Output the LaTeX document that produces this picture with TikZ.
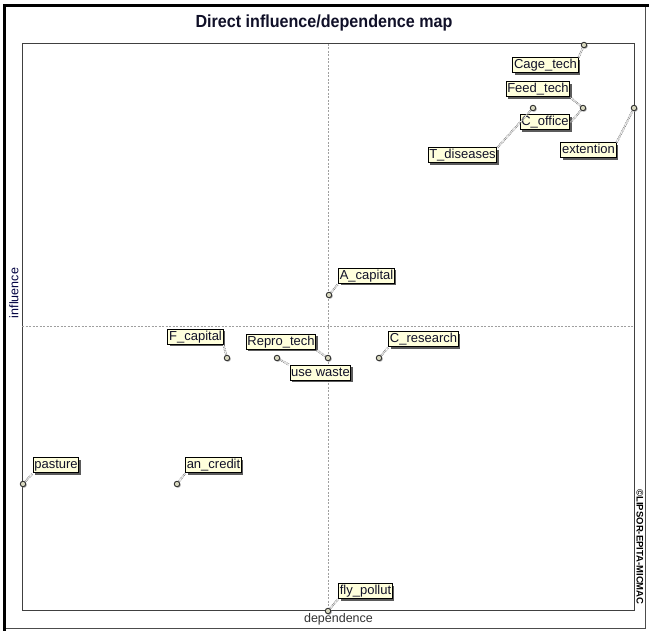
\documentclass[tikz,border=0pt]{standalone}
\usepackage{fontspec}
\setmainfont{Liberation Sans}
\usetikzlibrary{shadows}
\definecolor{lab}{HTML}{FFFFDC}
\definecolor{ink}{HTML}{101028}
\begin{document}
\begin{tikzpicture}[x=1pt,y=-1pt,
 lbl/.style={draw=black, fill=lab, line width=1pt, inner xsep=1.2pt, inner ysep=1pt, text=ink,
   font=\fontsize{13}{15}\selectfont, text height=10pt, text depth=3pt,
   drop shadow={shadow xshift=2pt, shadow yshift=-2pt, fill=gray!40!black, opacity=0.8}},
 pt/.style={circle, draw=gray!40!black, fill=lab!70!gray, line width=0.9pt, inner sep=0pt, minimum size=5.5pt,
   drop shadow={shadow xshift=1pt, shadow yshift=-1pt, fill=gray!70, opacity=1}},
 lead/.style={draw=gray!85!black, dash pattern=on 0.9pt off 0.9pt, line width=0.55pt, double=white, double distance=0.9pt},
 axisfont/.style={font=\fontsize{12.5}{14}\selectfont}]
\useasboundingbox (0,0) rectangle (649,631);
\fill[white] (0,0) rectangle (649,631);
% window border
\draw[line width=3pt] (4.5,631) -- (4.5,5.5) -- (649,5.5);
\draw[gray!60!black, line width=1pt] (6,628.5) -- (645.5,628.5) -- (645.5,7);
% plot frame and midlines
\draw[black!75, line width=1pt] (22,44) rectangle (634,610);
\draw[gray!75, dash pattern=on 2pt off 1.5pt, line width=0.6pt] (328.5,44) -- (328.5,610);
\draw[gray!75, dash pattern=on 2pt off 1.5pt, line width=0.6pt] (22,326) -- (634,326);
% texts
\node[font=\bfseries\fontsize{17.5}{19}\selectfont, text=ink] (title) at (324,22.5) {\scalebox{0.92}[1]{Direct influence/dependence map}};
\node[axisfont, text=black!80] (dep) at (338.5,619) {dependence};
\node[axisfont, rotate=90, text=blue!25!black] (inf) at (14,293) {influence};
\node[font=\bfseries\fontsize{9.5}{10}\selectfont, rotate=-90] (copy) at (640,547) {©LIPSOR-EPITA-MICMAC};
% labels
\node[lbl] (cage) at (545.5,65.5) {Cage\_tech};
\node[lbl] (feed) at (538,89.5) {Feed\_tech};
\node[lbl] (coff) at (545,122.5) {C\_office};
\node[lbl] (tdis) at (462.5,155.5) {T\_diseases};
\node[lbl] (ext) at (588.5,150.5) {extention};
\node[lbl] (acap) at (366.5,276) {A\_capital};
\node[lbl] (fcap) at (195.5,337) {F\_capital};
\node[lbl] (repro) at (281,342) {Repro\_tech};
\node[lbl] (usew) at (320.5,373) {use waste};
\node[lbl] (cres) at (423.5,339.5) {C\_research};
\node[lbl] (past) at (56,465.5) {pasture};
\node[lbl] (ancr) at (213.5,465.5) {an\_credit};
\node[lbl] (fly) at (365.5,591) {fly\_pollut};
% points
\coordinate (q1) at (584,45);
\coordinate (q2) at (583,108);
\coordinate (q3) at (533,108);
\coordinate (q4) at (634,108);
\coordinate (q5) at (329,295);
\coordinate (q6) at (227,358);
\coordinate (q7) at (328,358);
\coordinate (q7b) at (277,358);
\coordinate (q8) at (379,358);
\coordinate (q9) at (23,484);
\coordinate (q10) at (177,484);
\coordinate (q11) at (328,611);
% leaders
\draw[lead] (q1) -- (cage.north east);
\draw[lead] (q2) -- (feed.south east);
\draw[lead] (q2) -- (coff.east);
\draw[lead] (q3) -- (tdis.north east);
\draw[lead] (q4) -- (ext.north east);
\draw[lead] (q5) -- (acap.south west);
\draw[lead] (q6) -- (fcap.south east);
\draw[lead] (q7) -- (repro.south east);
\draw[lead] (q7b) -- (usew.north west);
\draw[lead] (q8) -- (cres.south west);
\draw[lead] (q9) -- (past.south west);
\draw[lead] (q10) -- (ancr.south west);
\draw[lead] (q11) -- (fly.south west);
% point markers
\foreach \q in {q1,q2,q3,q4,q5,q6,q7,q7b,q8,q9,q10,q11}
  \node[pt] (m\q) at (\q) {};
\end{tikzpicture}
\end{document}
